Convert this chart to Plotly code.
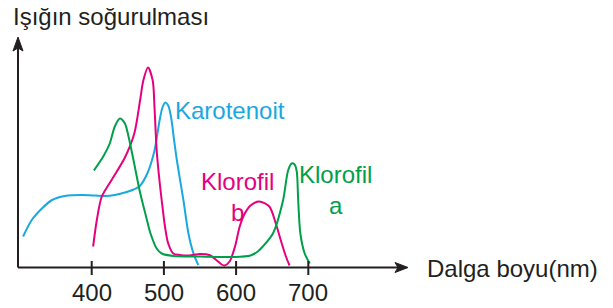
import plotly.graph_objects as go

# ---- data (wavelength in nm, relative absorption in arbitrary units) ----
karotenoit_nm = [305, 317, 331, 345, 363, 386, 405, 418, 432, 446, 458, 466, 477, 487, 494, 498, 502, 506, 510, 514, 518, 527, 534, 541, 547.6]
karotenoit_abs = [31, 47.5, 59, 67.5, 71.5, 72.5, 72, 71.5, 72.5, 75, 78, 81, 94, 117, 147, 160, 165, 162, 150, 128, 107, 67.5, 34, 14, 2.5]

klorofil_b_nm = [402, 407, 414, 428, 446, 459, 467, 471.5, 478, 484.5, 487, 490, 494, 497, 501.5, 506, 513, 522, 535, 550, 563, 572.5, 580, 584, 591, 598.5, 605, 612, 620, 632, 646, 655, 662, 669, 674]
klorofil_b_abs = [21, 47, 71, 88, 110, 134, 167, 187, 200, 187, 160, 117, 86, 67, 41, 24, 14, 12.5, 12, 13.5, 12.5, 7.5, 3, 2, 6, 21, 41, 54, 62, 66, 61, 44, 27, 11, 2]

klorofil_a_nm = [403, 416, 425, 432, 439, 446, 451, 458, 467, 476, 481, 490, 497, 513, 550, 596, 620, 630, 637, 651, 665, 672, 677, 681, 684, 686, 689, 695, 702]
klorofil_a_abs = [97, 111, 124, 141, 149, 144, 131, 107, 75, 49, 35, 19, 14, 11.5, 11, 10.5, 12, 16, 21, 34, 67, 97, 104, 103, 96, 67, 34, 14, 4]

tick_values = [400, 500, 600, 700]
tick_labels = ["400", "500", "600", "700"]

title_text = "Işığın soğurulması"
xlabel_text = "Dalga boyu(nm)"

BLUE = "#1AA8E0"
MAGENTA = "#E5007E"
GREEN = "#00A04A"
INK = "#231F20"
FONT = "Liberation Sans, Arial, Helvetica, sans-serif"
FS = 24

W, H = 613, 308
X0, X1 = 273.0, 1122.0
Y0, Y1 = -40.5, 267.5


def px_x(px):
    return X0 + px / W * (X1 - X0)


def px_y(py):
    return Y1 - py / H * (Y1 - Y0)


fig = go.Figure()
for xs, ys, c in [(karotenoit_nm, karotenoit_abs, BLUE),
                  (klorofil_b_nm, klorofil_b_abs, MAGENTA),
                  (klorofil_a_nm, klorofil_a_abs, GREEN)]:
    fig.add_trace(go.Scatter(x=xs, y=ys, mode="lines",
                             line=dict(color=c, width=2, shape="spline", smoothing=0.8),
                             hoverinfo="skip", showlegend=False))

shapes = []
# axis lines
ox = px_x(18)
shapes.append(dict(type="line", xref="x", yref="y", x0=ox, x1=px_x(398), y0=0, y1=0,
                   line=dict(color=INK, width=2)))
shapes.append(dict(type="line", xref="x", yref="y", x0=ox, x1=ox, y0=0, y1=px_y(48),
                   line=dict(color=INK, width=2)))
# arrowheads
def path(pts):
    return "M " + " L ".join(f"{px_x(a)},{px_y(b)}" for a, b in pts) + " Z"

shapes.append(dict(type="path", xref="x", yref="y",
                   path=path([(18, 37), (13, 51), (18, 48), (23, 51)]),
                   fillcolor=INK, line=dict(color=INK, width=1)))
shapes.append(dict(type="path", xref="x", yref="y",
                   path=path([(408, 267.5), (395, 262.5), (398, 267.5), (395, 272.5)]),
                   fillcolor=INK, line=dict(color=INK, width=1)))
# ticks crossing axis
for t in tick_values:
    shapes.append(dict(type="line", xref="x", yref="y", x0=t, x1=t, y0=6.5, y1=-7.5,
                       line=dict(color=INK, width=2)))

annotations = []
for t, lab in zip(tick_values, tick_labels):
    annotations.append(dict(x=t, y=px_y(292.5), xref="x", yref="y", text=lab, showarrow=False,
                            xanchor="center", yanchor="middle",
                            font=dict(family=FONT, size=FS, color=INK)))
annotations.append(dict(x=px_x(11), y=px_y(16), xref="x", yref="y", text=title_text, showarrow=False,
                        xanchor="left", yanchor="middle", font=dict(family=FONT, size=FS, color=INK)))
annotations.append(dict(x=px_x(425), y=px_y(268), xref="x", yref="y", text=xlabel_text, showarrow=False,
                        xanchor="left", yanchor="middle", font=dict(family=FONT, size=FS, color=INK)))
annotations.append(dict(x=px_x(173), y=px_y(110), xref="x", yref="y", text="Karotenoit", showarrow=False,
                        xanchor="left", yanchor="middle", font=dict(family=FONT, size=FS, color=BLUE)))
annotations.append(dict(x=px_x(237.5), y=px_y(197), xref="x", yref="y", text="Klorofil<br>b", showarrow=False,
                        xanchor="center", yanchor="middle", align="center",
                        font=dict(family=FONT, size=FS, color=MAGENTA)))
annotations.append(dict(x=px_x(335), y=px_y(190), xref="x", yref="y", text="Klorofil<br>a", showarrow=False,
                        xanchor="center", yanchor="middle", align="center",
                        font=dict(family=FONT, size=FS, color=GREEN)))

fig.update_layout(
    width=W, height=H, margin=dict(l=0, r=0, t=0, b=0),
    paper_bgcolor="white", plot_bgcolor="white",
    xaxis=dict(range=[X0, X1], visible=False, fixedrange=True),
    yaxis=dict(range=[Y0, Y1], visible=False, fixedrange=True),
    shapes=shapes, annotations=annotations,
)
fig.write_html("out.html", config={"displayModeBar": False})

# remove the browser's default page margin so the figure sits at the window origin
with open("out.html", encoding="utf-8") as f:
    html = f.read()
html = html.replace("<body>", '<body style="margin:0;overflow:hidden">', 1)
html = html.replace("<head>", '<head><style>html,body{margin:0;padding:0;overflow:hidden}</style>', 1)
with open("out.html", "w", encoding="utf-8") as f:
    f.write(html)
